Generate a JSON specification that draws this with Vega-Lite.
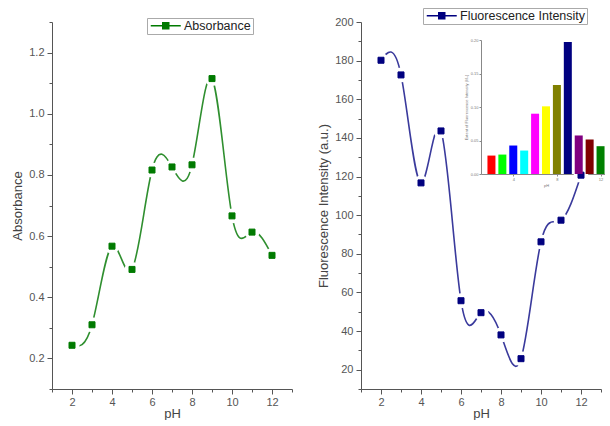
{
  "$schema": "https://vega.github.io/schema/vega-lite/v6.json",
  "padding": {"left": 11, "top": 7, "right": 0, "bottom": 0},
  "autosize": {"type": "pad"},
  "bounds": "flush",
  "spacing": 69,
  "config": {
    "view": {"stroke": null},
    "font": "Liberation Sans",
    "axis": {
      "grid": false,
      "domainColor": "#555",
      "tickColor": "#555",
      "labelColor": "#555",
      "titleColor": "#444",
      "labelFont": "Liberation Sans",
      "titleFont": "Liberation Sans",
      "labelFontSize": 11,
      "titleFontSize": 13,
      "titleFontWeight": "normal",
      "labelPadding": 3,
      "titlePadding": 4
    },
    "axisX": {"labelPadding": 2, "titlePadding": 0},
    "legend": {"labelFont": "Liberation Sans", "labelColor": "#222"}
  },
  "data": {
    "values": [
      {"pH": 2, "Absorbance": 0.243, "Fluorescence": 180.2},
      {"pH": 3, "Absorbance": 0.310, "Fluorescence": 172.6},
      {"pH": 4, "Absorbance": 0.567, "Fluorescence": 116.7},
      {"pH": 5, "Absorbance": 0.491, "Fluorescence": 143.6},
      {"pH": 6, "Absorbance": 0.816, "Fluorescence": 55.7},
      {"pH": 7, "Absorbance": 0.826, "Fluorescence": 49.5},
      {"pH": 8, "Absorbance": 0.833, "Fluorescence": 38.0},
      {"pH": 9, "Absorbance": 1.115, "Fluorescence": 25.7},
      {"pH": 10, "Absorbance": 0.666, "Fluorescence": 86.2},
      {"pH": 11, "Absorbance": 0.613, "Fluorescence": 97.4},
      {"pH": 12, "Absorbance": 0.537, "Fluorescence": 120.7}
    ]
  },
  "resolve": {
    "scale": {"color": "independent", "fill": "independent", "stroke": "independent"},
    "legend": {"color": "independent", "fill": "independent", "stroke": "independent"}
  },
  "hconcat": [
    {
      "width": 240,
      "height": 367,
      "encoding": {
        "x": {
          "field": "pH", "type": "quantitative",
          "scale": {"domain": [1, 13], "nice": false, "zero": false},
          "axis": {
            "title": "pH",
            "values": [1, 2, 3, 4, 5, 6, 7, 8, 9, 10, 11, 12, 13],
            "labelExpr": "datum.value % 2 == 0 ? datum.label : ''",
            "tickSize": {"condition": {"test": "datum.value % 2 == 0", "value": 5}, "value": 3}
          }
        },
        "y": {
          "field": "Absorbance", "type": "quantitative",
          "scale": {"domain": [0.1, 1.3], "nice": false, "zero": false},
          "axis": {
            "title": "Absorbance",
            "values": [0.1, 0.2, 0.3, 0.4, 0.5, 0.6, 0.7, 0.8, 0.9, 1.0, 1.1, 1.2, 1.3],
            "labelExpr": "round(datum.value * 10) % 2 == 0 ? format(datum.value, '.1f') : ''",
            "tickSize": {"condition": {"test": "round(datum.value * 10) % 2 == 0", "value": 5}, "value": 3}
          }
        }
      },
      "layer": [
        {"mark": {"type": "line", "interpolate": "natural", "color": "#2f8f2f", "strokeWidth": 1.6}},
        {"mark": {"type": "point", "shape": "circle", "filled": true, "color": "white", "opacity": 1, "size": 220}},
        {
          "mark": {"type": "point", "shape": "square", "filled": true, "opacity": 1, "size": 36, "strokeWidth": 1},
          "encoding": {
            "fill": {
              "datum": "Absorbance", "type": "nominal",
              "scale": {"range": ["#007a00"]},
              "legend": {
                "title": null, "orient": "none", "legendX": 95, "legendY": -4,
                "symbolType": "M-3,0L3,0M-0.6,-0.6L0.6,-0.6L0.6,0.6L-0.6,0.6Z",
                "symbolSize": 100, "symbolOffset": 11, "labelOffset": 12, "symbolStrokeWidth": 1.5,
                "labelFontSize": 12.5, "strokeColor": "#aaa", "padding": 1.5
              }
            },
            "stroke": {
              "datum": "Absorbance", "type": "nominal",
              "scale": {"range": ["#007a00"]},
              "legend": {
                "title": null, "orient": "none", "legendX": 95, "legendY": -4,
                "symbolType": "M-3,0L3,0M-0.6,-0.6L0.6,-0.6L0.6,0.6L-0.6,0.6Z",
                "symbolSize": 100, "symbolOffset": 11, "labelOffset": 12, "symbolStrokeWidth": 1.5,
                "labelFontSize": 12.5, "strokeColor": "#aaa", "padding": 1.5
              }
            }
          }
        }
      ]
    },
    {
      "width": 240,
      "height": 367,
      "resolve": {"scale": {"x": "independent", "y": "independent", "color": "independent"}, "axis": {"x": "independent", "y": "independent"}},
      "layer": [
        {
          "encoding": {
            "x": {
              "field": "pH", "type": "quantitative",
              "scale": {"domain": [1, 13], "nice": false, "zero": false},
              "axis": {
                "title": "pH", "orient": "bottom",
                "values": [1, 2, 3, 4, 5, 6, 7, 8, 9, 10, 11, 12, 13],
                "labelExpr": "datum.value % 2 == 0 ? datum.label : ''",
                "tickSize": {"condition": {"test": "datum.value % 2 == 0", "value": 5}, "value": 3}
              }
            },
            "y": {
              "field": "Fluorescence", "type": "quantitative",
              "scale": {"domain": [10, 200], "nice": false, "zero": false},
              "axis": {
                "title": "Fluorescence Intensity (a.u.)", "orient": "left",
                "values": [10, 20, 30, 40, 50, 60, 70, 80, 90, 100, 110, 120, 130, 140, 150, 160, 170, 180, 190, 200],
                "labelExpr": "datum.value % 20 == 0 ? datum.label : ''",
                "tickSize": {"condition": {"test": "datum.value % 20 == 0", "value": 5}, "value": 3}
              }
            }
          },
          "layer": [
            {"mark": {"type": "line", "interpolate": "natural", "color": "#3a3a9c", "strokeWidth": 1.6}},
            {"mark": {"type": "point", "shape": "circle", "filled": true, "color": "white", "opacity": 1, "size": 220}},
            {
              "mark": {"type": "point", "shape": "square", "filled": true, "opacity": 1, "size": 36, "strokeWidth": 1},
              "encoding": {
                "fill": {
                  "datum": "Fluorescence Intensity", "type": "nominal",
                  "scale": {"range": ["#00007f"]},
                  "legend": {
                    "title": null, "orient": "none", "legendX": 62, "legendY": -14,
                    "symbolType": "M-3,0L3,0M-0.6,-0.6L0.6,-0.6L0.6,0.6L-0.6,0.6Z",
                    "symbolSize": 100, "symbolOffset": 11, "labelOffset": 12, "symbolStrokeWidth": 1.5,
                    "labelFontSize": 12.5, "strokeColor": "#aaa", "padding": 1.5
                  }
                },
                "stroke": {
                  "datum": "Fluorescence Intensity", "type": "nominal",
                  "scale": {"range": ["#00007f"]},
                  "legend": {
                    "title": null, "orient": "none", "legendX": 62, "legendY": -14,
                    "symbolType": "M-3,0L3,0M-0.6,-0.6L0.6,-0.6L0.6,0.6L-0.6,0.6Z",
                    "symbolSize": 100, "symbolOffset": 11, "labelOffset": 12, "symbolStrokeWidth": 1.5,
                    "labelFontSize": 12.5, "strokeColor": "#aaa", "padding": 1.5
                  }
                }
              }
            }
          ]
        },
        {
          "data": {
            "values": [
              {"pH": 2, "extent": 0.0275},
              {"pH": 3, "extent": 0.029},
              {"pH": 4, "extent": 0.0425},
              {"pH": 5, "extent": 0.035},
              {"pH": 6, "extent": 0.090},
              {"pH": 7, "extent": 0.101},
              {"pH": 8, "extent": 0.133},
              {"pH": 9, "extent": 0.197},
              {"pH": 10, "extent": 0.0575},
              {"pH": 11, "extent": 0.0515},
              {"pH": 12, "extent": 0.0415}
            ]
          },
          "mark": {"type": "bar", "size": 8},
          "encoding": {
            "x": {
              "field": "pH", "type": "quantitative",
              "scale": {"domain": [1.5, 12.5], "range": [120, 250], "nice": false, "zero": false},
              "axis": {
                "title": "pH", "orient": "bottom", "offset": -215,
                "values": [4, 8, 12], "labelFontSize": 4, "titleFontSize": 4,
                "tickSize": 2, "labelPadding": 1, "titlePadding": 2, "domainColor": "#888", "tickColor": "#888", "labelColor": "#777", "titleColor": "#777"
              }
            },
            "y": {
              "field": "extent", "type": "quantitative",
              "scale": {"domain": [0, 0.2], "range": [152, 18], "nice": false},
              "axis": {
                "title": "Extent of Fluorescence Intensity (I/I₀)", "orient": "left", "offset": -120,
                "values": [0, 0.05, 0.1, 0.15, 0.2], "format": ".2f",
                "labelFontSize": 4, "titleFontSize": 4, "tickSize": 2, "labelPadding": 1, "titlePadding": 2,
                "domainColor": "#888", "tickColor": "#888", "labelColor": "#777", "titleColor": "#777"
              }
            },
            "color": {
              "field": "pH", "type": "nominal",
              "scale": {"range": ["#ff0000", "#00ff00", "#0000ff", "#00ffff", "#ff00ff", "#ffff00", "#808000", "#000080", "#800080", "#800000", "#008000"]},
              "legend": null
            }
          }
        }
      ]
    }
  ]
}
